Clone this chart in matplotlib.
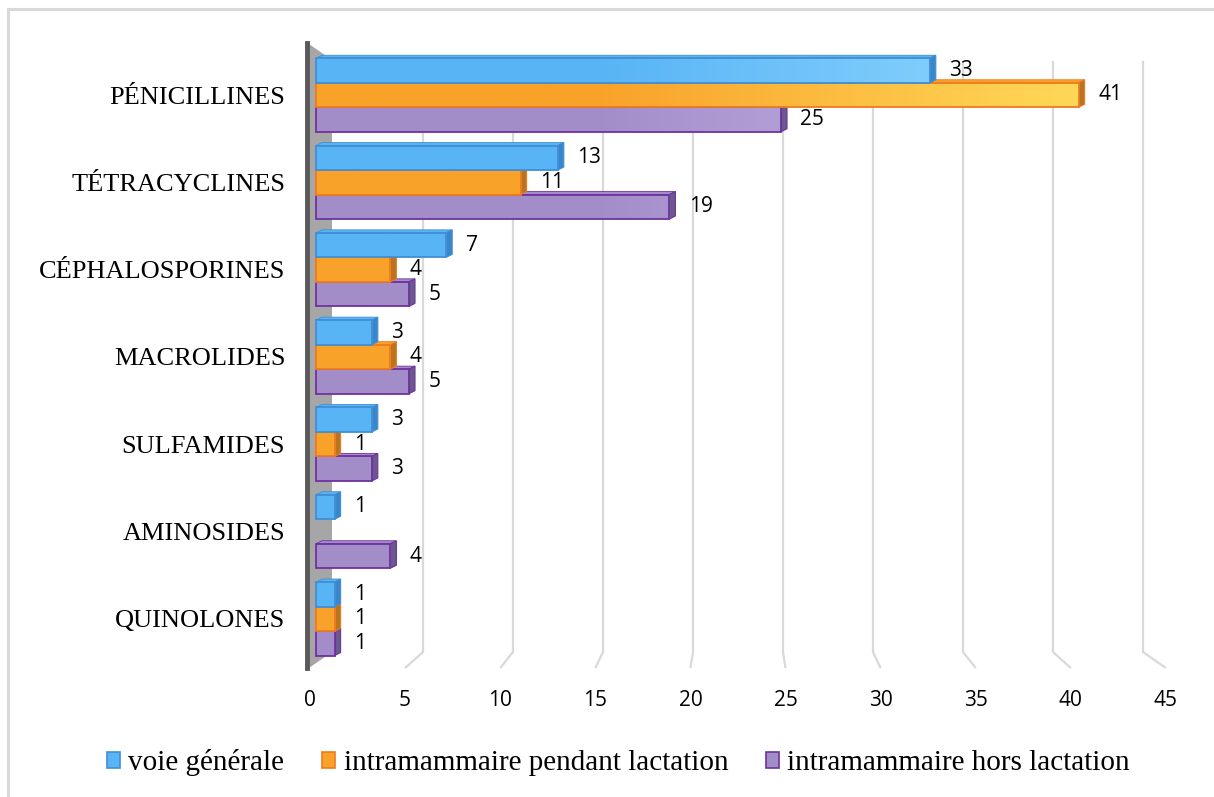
import numpy as np
import matplotlib.pyplot as plt
from matplotlib.patches import Rectangle, Polygon, Patch
from matplotlib.lines import Line2D
from matplotlib.colors import to_rgb

categories = ["PÉNICILLINES", "TÉTRACYCLINES", "CÉPHALOSPORINES", "MACROLIDES",
              "SULFAMIDES", "AMINOSIDES", "QUINOLONES"]
voie_generale = [33, 13, 7, 3, 3, 1, 1]
pendant_lactation = [41, 11, 4, 4, 1, None, 1]
hors_lactation = [25, 19, 5, 5, 3, 4, 1]
series_names = ["voie générale", "intramammaire pendant lactation",
                "intramammaire hors lactation"]
x_ticks = [0, 5, 10, 15, 20, 25, 30, 35, 40, 45]

# fill, light end of gradient, edge, side face
styles = [
    ("#58B4F5", "#90D8FF", "#3F8FD6", "#3A86C8"),
    ("#F9A22A", "#FFD858", "#EE7B1F", "#B8741E"),
    ("#A38DC9", "#CAB9EC", "#7030A0", "#6A5A8C"),
]

W, H = 1214, 797
fig = plt.figure(figsize=(W / 100, H / 100), dpi=100)

# pixel geometry of the plot
PX_UNIT = 18.6      # px per value unit for bars
X0_PX = 316         # px of value 0
ROW_PX = 87.3       # px between category rows
Y0_PX = 95          # px of first row centre
ax_l, ax_r, ax_t, ax_b = 288, 1190, 30, 690
ax = fig.add_axes([ax_l / W, 1 - ax_b / H, (ax_r - ax_l) / W, (ax_b - ax_t) / H])
ax.set_facecolor("none")
for s in ax.spines.values():
    s.set_visible(False)


def px_x(px):
    return (px - X0_PX) / PX_UNIT


def px_y(py):
    return (py - Y0_PX) / ROW_PX


xlim = (px_x(ax_l), px_x(ax_r))
ylim = (px_y(ax_b), px_y(ax_t))

# outer frame (top and left edges)
fig.add_artist(Line2D([8 / W, 8 / W], [0, 1 - 9 / H], transform=fig.transFigure,
                      color="#D9D9D9", lw=2.2))
fig.add_artist(Line2D([8 / W, 1], [1 - 9 / H, 1 - 9 / H], transform=fig.transFigure,
                      color="#D9D9D9", lw=2.2))

# back-wall gridlines with perspective floor segments
for v in x_ticks[1:]:
    bx = px_x(333 + 18.0 * v)
    fx = px_x(310 + 19.02 * v)
    ax.plot([bx, bx, fx], [px_y(61), px_y(652), px_y(668)], color="#D9D9D9",
            lw=1.6, solid_capstyle="butt", zorder=1, clip_on=False)

# side wall at value 0
wall = Polygon([(px_x(309), px_y(44)), (px_x(332), px_y(60)), (px_x(332), px_y(652)),
                (px_x(309), px_y(668))], closed=True, facecolor="#A6A6A6",
               edgecolor="none", zorder=2, clip_on=False)
ax.add_patch(wall)
ax.plot([px_x(307), px_x(307)], [px_y(43), px_y(668)], color="#595959", lw=3.5,
        zorder=3, clip_on=False)

bar_h = 24.5 / ROW_PX
dx = 6 / PX_UNIT
dy = 3 / ROW_PX
series = [voie_generale, pendant_lactation, hors_lactation]
offsets = [-bar_h, 0, bar_h]

z = 10
for i in range(len(categories)):
    # bottom bar first so the bars above hide its depth faces
    for k in (2, 1, 0):
        val = series[k][i]
        if not val:
            continue
        fill, light, edge, side = styles[k]
        yc = i + offsets[k]
        y_top, y_bot = yc - bar_h / 2, yc + bar_h / 2
        # top and side depth faces
        top = Polygon([(0, y_top), (dx, y_top - dy), (val + dx, y_top - dy), (val, y_top)],
                      closed=True, facecolor=fill, edgecolor=edge, lw=0.6, zorder=z)
        sideface = Polygon([(val, y_top), (val + dx, y_top - dy), (val + dx, y_bot - dy),
                            (val, y_bot)], closed=True, facecolor=side, edgecolor=edge,
                           lw=0.8, zorder=z)
        ax.add_patch(top)
        ax.add_patch(sideface)
        # front face with a left-to-right gradient
        xs = np.linspace(0, val, 200)
        t = np.clip((xs - 15) / 26, 0, 1)[None, :, None]
        c0 = np.array(to_rgb(fill))[None, None, :]
        c1 = np.array(to_rgb(light))[None, None, :]
        img = c0 * (1 - t) + c1 * t
        rect = Rectangle((0, y_top), val, bar_h, facecolor="none", edgecolor=edge,
                         lw=1.3, zorder=z + 2)
        ax.add_patch(rect)
        im = ax.imshow(img, extent=(0, val, y_bot, y_top), aspect="auto",
                       interpolation="bilinear", zorder=z + 1)
        im.set_clip_path(rect)
        ax.annotate(str(val), (val, yc), xytext=(14, 0), textcoords="offset points",
                    ha="left", va="center", fontsize=15, family="Open Sans",
                    color="#000000", zorder=50)
        z += 3

ax.set_xlim(xlim)
ax.set_ylim(ylim)

ax.set_xticks([px_x(310 + 19.02 * v) for v in x_ticks])
ax.set_xticklabels([str(v) for v in x_ticks], fontsize=15, family="Open Sans")
ax.set_yticks(range(len(categories)))
ax.set_yticklabels(categories, fontsize=19, family="Liberation Serif")
ax.tick_params(axis="both", length=0)
ax.tick_params(axis="x", pad=0)
ax.tick_params(axis="y", pad=2)

handles = [Patch(facecolor=styles[k][0], edgecolor=styles[k][2], lw=1.2)
           for k in range(3)]
fig.legend(handles, series_names, loc="center", bbox_to_anchor=(0.5095, 1 - 763 / H),
           ncol=3, frameon=False, prop={"family": "Liberation Serif", "size": 21},
           handlelength=0.45, handleheight=0.45, handletextpad=0.28, columnspacing=1.3)

fig.savefig("out.png", dpi=100)
